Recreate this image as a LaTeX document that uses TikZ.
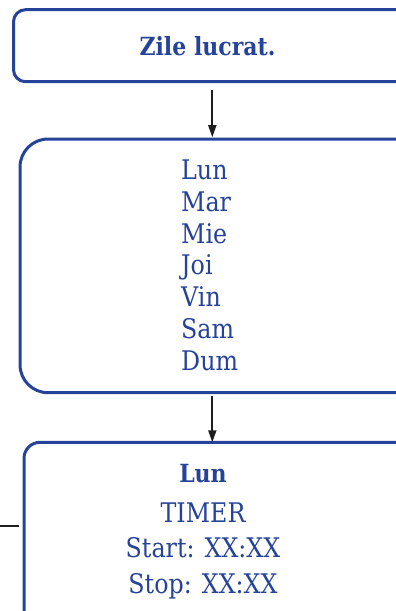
\documentclass[tikz,border=0pt]{standalone}
\usepackage{fontspec}
\setmainfont{DejaVu Serif}[FakeStretch=0.88]
\usetikzlibrary{arrows.meta,positioning}
\definecolor{navy}{HTML}{26439A}
\definecolor{ink}{HTML}{1E1E1E}

\begin{document}
\begin{tikzpicture}[x=1pt,y=-1pt,>={Triangle[length=12pt,width=8pt]},
    panel/.style={draw=navy,line width=3pt,fill=white,anchor=north west,
                  inner sep=0pt,outer sep=0pt,minimum width=420pt},
    txt/.style={text=navy,inner sep=0pt},
    flow/.style={->,ink,line width=1.8pt}]
  \useasboundingbox (0,0) rectangle (396,611);
  \clip (0,0) rectangle (396,611);
  \node[panel,rounded corners=12pt,minimum height=72pt] (hdr) at (13.5,9.7) {};
  \node[panel,rounded corners=28pt,minimum height=253.7pt] (days) at (20,139) {};
  \node[panel,rounded corners=16pt,minimum height=220pt] (timer) at (24,442.3) {};
  \node[txt,font=\bfseries\fontsize{25}{30}\selectfont,anchor=base] (hdrtxt) at (207.5,55) {Zile lucrat.};
  \node[txt,font=\fontsize{27}{31.8}\selectfont,align=left,anchor=north west] (daylist) at (181,159.6)
    {Lun\\Mar\\Mie\\Joi\\Vin\\Sam\\Dum};
  \node[txt,font=\fontsize{27}{35.5}\selectfont,align=center,anchor=north] (timertxt) at (203,463.8)
    {{\bfseries\fontsize{25}{35.5}\selectfont Lun}\\[4.5pt]TIMER\\Start: XX:XX\\Stop: XX:XX};
  \coordinate (ax) at (212.3,0);
  \coordinate (lft) at (0,526);
  \draw[flow] ([yshift=-8pt]hdr.south -| ax) -- ([yshift=1.8pt]days.north -| ax);
  \draw[flow] ([yshift=-3pt]days.south -| ax) -- (timer.north -| ax);
  \draw[ink,line width=1.5pt] (lft) -- ([xshift=-5pt]timer.west |- lft);
\end{tikzpicture}
\end{document}
